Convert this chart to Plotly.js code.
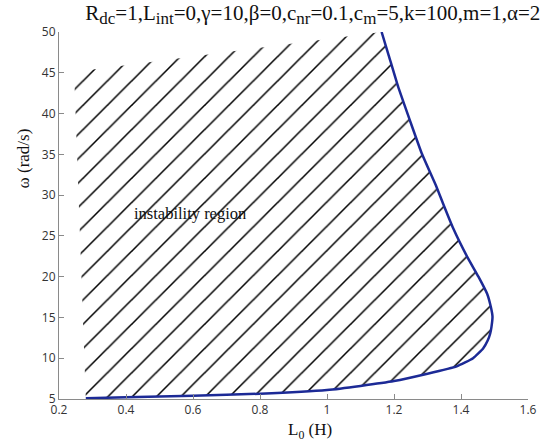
<!DOCTYPE html>
<html>
<head>
<meta charset="utf-8">
<script src="https://cdn.plot.ly/plotly-3.0.1.min.js"></script>
<style>html,body{margin:0;padding:0;background:#fff;}#chart{width:545px;height:444px;}</style>
</head>
<body>
<div id="chart"></div>
<script>
// Stability boundary (blue curve), L0 (H) vs omega (rad/s), from bottom to top
var curveL = [0.28, 0.40, 0.60, 0.80, 1.00, 1.10, 1.20, 1.30, 1.387, 1.436, 1.466, 1.480, 1.487, 1.491, 1.494, 1.489, 1.478, 1.452, 1.419, 1.377, 1.347, 1.327, 1.283, 1.248, 1.213, 1.183, 1.163];
var curveW = [5.1, 5.2, 5.4, 5.65, 6.1, 6.6, 7.2, 8.1, 9.0, 10.0, 11.2, 12.2, 13.0, 13.85, 15.1, 16.3, 17.9, 20.0, 22.4, 25.9, 28.9, 31.0, 35.1, 39.1, 43.2, 47.3, 50.0];
// Upper-left corner of the hatched instability region
var cornerL = [0.245];
var cornerW = [45.1];
var xTicks = [0.2, 0.4, 0.6, 0.8, 1, 1.2, 1.4, 1.6];
var yTicks = [5, 10, 15, 20, 25, 30, 35, 40, 45, 50];

var regionL = curveL.concat(cornerL);
var regionW = curveW.concat(cornerW);

var serif = '"Liberation Serif", "Times New Roman", serif';
var sans = '"Open Sans", "Liberation Sans", sans-serif';

function sb(t) { return '<sub><span style="font-size:17px">' + t + '</span></sub>'; }

var traces = [
  {
    x: regionL, y: regionW, type: 'scatter', mode: 'lines',
    fill: 'toself', fillcolor: 'rgba(0,0,0,0)',
    fillpattern: {shape: '/', size: 17.2, solidity: 0.09, fgcolor: '#000000', bgcolor: 'rgba(0,0,0,0)', fgopacity: 1},
    line: {width: 0, color: 'rgba(0,0,0,0)'},
    hoverinfo: 'skip', showlegend: false
  },
  {
    x: curveL, y: curveW, type: 'scatter', mode: 'lines',
    line: {color: '#1c2a96', width: 2.5, shape: 'spline', smoothing: 0.4},
    showlegend: false
  }
];

var axisCommon = {
  showline: true, linecolor: '#8a8a8a', linewidth: 1,
  ticks: 'inside', ticklen: 5, tickcolor: '#8a8a8a', tickwidth: 1,
  showgrid: false, zeroline: false, mirror: false,
  tickfont: {family: sans, size: 12, color: '#333333'}
};

var layout = {
  width: 545, height: 444,
  margin: {l: 59, r: 17, t: 32, b: 45},
  paper_bgcolor: '#ffffff', plot_bgcolor: '#ffffff',
  title: {
    text: 'R' + sb('dc') + '=1,L' + sb('int') + '=0,γ=10,β=0,c' + sb('nr') + '=0.1,c' + sb('m') + '=5,k=100,m=1,α=2',
    font: {family: serif, size: 21, color: '#111111'},
    x: 0.574, xanchor: 'center', y: 0.972, yanchor: 'middle'
  },
  xaxis: Object.assign({}, axisCommon, {
    range: [0.2, 1.6], tickvals: xTicks, ticktext: xTicks.map(String)
  }),
  yaxis: Object.assign({}, axisCommon, {
    range: [5, 50], tickvals: yTicks, ticktext: yTicks.map(String)
  }),
  annotations: [
    {
      x: 0.59, y: 27.8, xref: 'x', yref: 'y', text: 'instability region',
      showarrow: false, font: {family: serif, size: 16.5, color: '#111111'}
    },
    {
      x: -0.075, y: 0.655, xref: 'paper', yref: 'paper', text: 'ω (rad/s)', textangle: -90,
      xanchor: 'center', yanchor: 'middle',
      showarrow: false, font: {family: serif, size: 17, color: '#111111'}
    },
    {
      x: 0.535, y: -0.088, xref: 'paper', yref: 'paper', text: 'L<sub>0</sub> (H)',
      xanchor: 'center', yanchor: 'middle',
      showarrow: false, font: {family: serif, size: 17, color: '#111111'}
    }
  ]
};

Plotly.newPlot('chart', traces, layout, {displayModeBar: false, staticPlot: true});
</script>
</body>
</html>
